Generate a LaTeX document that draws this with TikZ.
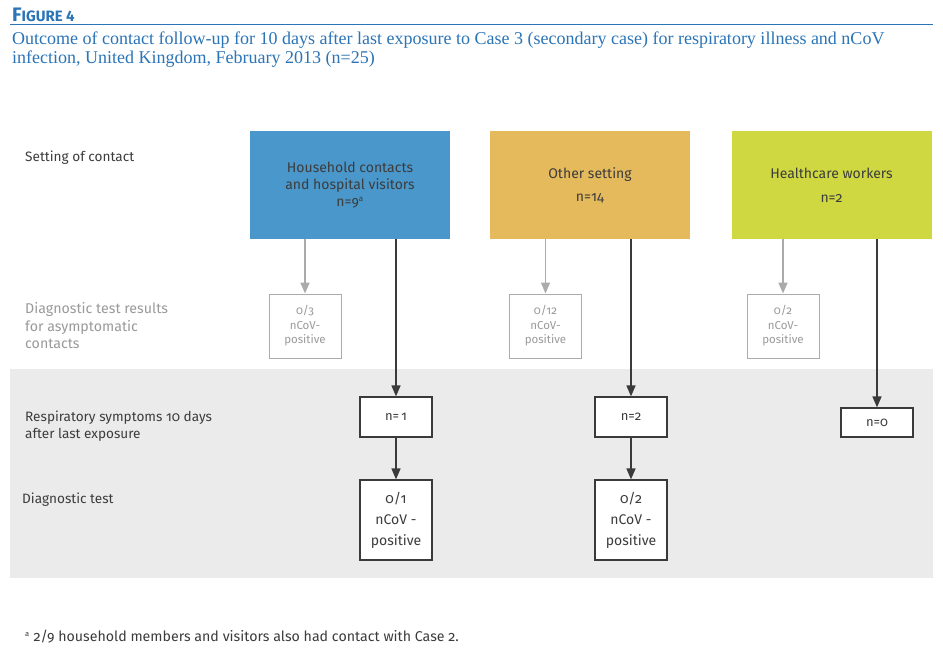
\documentclass[tikz,border=0pt]{standalone}
\usepackage{fontspec}
\setsansfont{Fira Sans}[Numbers=OldStyle]
\newfontfamily\titlefont{Liberation Serif}
\newfontfamily\headfont{Fira Sans}[Numbers=Lining]
\usetikzlibrary{arrows.meta}
\definecolor{eblue}{HTML}{2B74B6}
\definecolor{cblue}{HTML}{4A97CB}
\definecolor{corange}{HTML}{E5BA5C}
\definecolor{cgreen}{HTML}{CFD840}
\definecolor{bandgray}{HTML}{EBEBEC}
\definecolor{txt}{HTML}{3C3C3C}
\definecolor{ltxt}{HTML}{9A9A9A}
\definecolor{lline}{HTML}{ABABAB}
\definecolor{dline}{HTML}{3A3A3A}
\tikzset{
  setbox/.style={minimum width=200pt, minimum height=108pt, inner sep=0pt, align=center, text=txt, font=\sffamily\fontsize{14}{17}\selectfont},
  asybox/.style={draw=lline, line width=1pt, fill=white, minimum width=72pt, minimum height=64pt, inner sep=0pt, align=center, text=ltxt, font=\sffamily\fontsize{11.5}{14.5}\selectfont},
  resbox/.style={draw=dline, line width=1.2pt, fill=white, minimum width=72pt, inner sep=0pt, align=center, text=txt, font=\sffamily\fontsize{13}{20}\selectfont},
  lbl/.style={anchor=west, align=left, inner sep=0pt, text=txt, font=\sffamily\fontsize{13.6}{17.5}\selectfont},
  glbl/.style={lbl, text=ltxt, font=\sffamily\fontsize{14.2}{17.5}\selectfont},
  garrow/.style={draw=lline, line width=1.6pt, -{Triangle[width=9pt,length=11pt]}},
  darrow/.style={draw=dline, line width=1.6pt, -{Triangle[width=9pt,length=11pt]}},
}
\begin{document}
\begin{tikzpicture}[x=1pt,y=-1pt]
\useasboundingbox[fill=white] (0,0) rectangle (943,650);
% heading
\node[anchor=base west, inner sep=0pt, text=eblue, font=\headfont\bfseries] (fig) at (12,21.5)
  {\fontsize{19.5}{20}\selectfont F\fontsize{15}{20}\selectfont IGURE 4};
\draw[eblue, line width=1.3pt] (10,24.5) -- (933,24.5);
\node[anchor=north west, inner sep=0pt, align=left, text=eblue, font=\titlefont\fontsize{18}{18.5}\selectfont] (title) at (12,32)
  {Outcome of contact follow-up for 10 days after last exposure to Case 3 (secondary case) for respiratory illness and nCoV\\infection, United Kingdom, February 2013 (n=25)};
% band
\fill[bandgray] (10,369) rectangle (933,578);
% setting boxes
\node[setbox, fill=cblue] (b1) at (350,185) {Household contacts\\and hospital visitors\\n=9\textsuperscript{\fontsize{8}{8}\selectfont a}};
\node[setbox, fill=corange, font=\sffamily\fontsize{14}{23}\selectfont] (b2) at (590,185) {Other setting\\n=14};
\node[setbox, fill=cgreen, font=\sffamily\fontsize{14}{24}\selectfont] (b3) at (831.5,185) {Healthcare workers\\n=2};
% asymptomatic boxes
\node[asybox] (g1) at (305,326) {0/3\\nCoV-\\positive};
\node[asybox] (g2) at (545.5,326) {0/12\\nCoV-\\positive};
\node[asybox] (g3) at (783,326) {0/2\\nCoV-\\positive};
% respiratory boxes
\node[resbox, minimum height=40pt] (r1) at (396,417) {n=\,1};
\node[resbox, minimum height=40pt] (r2) at (631,417) {n=2};
\node[resbox, minimum height=29pt] (r3) at (877,422.5) {n=0};
% diagnostic boxes
\node[resbox, minimum height=80pt, font=\sffamily\fontsize{14}{21}\selectfont] (d1) at (396,520) {0/1\\nCoV -\\positive};
\node[resbox, minimum height=80pt, font=\sffamily\fontsize{14}{21}\selectfont] (d2) at (631,520) {0/2\\nCoV -\\positive};
% arrows
\draw[garrow] (g1.north |- b1.south) -- (g1.north);
\draw[garrow] (g2.north |- b2.south) -- (g2.north);
\draw[garrow] (g3.north |- b3.south) -- (g3.north);
\draw[darrow] (r1.north |- b1.south) -- (r1.north);
\draw[darrow] (r2.north |- b2.south) -- (r2.north);
\draw[darrow] (r3.north |- b3.south) -- (r3.north);
\draw[darrow] (r1.south) -- (d1.north);
\draw[darrow] (r2.south) -- (d2.north);
% left labels
\node[lbl] (l1) at (25,158) {Setting of contact};
\node[glbl] (l2) at (25,326) {Diagnostic test results\\for asymptomatic\\contacts};
\node[lbl] (l3) at (25,426) {Respiratory symptoms 10 days\\after last exposure};
\node[lbl] (l4) at (22,500) {Diagnostic test};
% footnote
\node[anchor=west, inner sep=0pt, text=txt, font=\sffamily\fontsize{14.2}{16}\selectfont] (fn) at (25,637)
  {\textsuperscript{\fontsize{7.5}{7.5}\selectfont a} 2/9 household members and visitors also had contact with Case 2.};
\end{tikzpicture}
\end{document}
